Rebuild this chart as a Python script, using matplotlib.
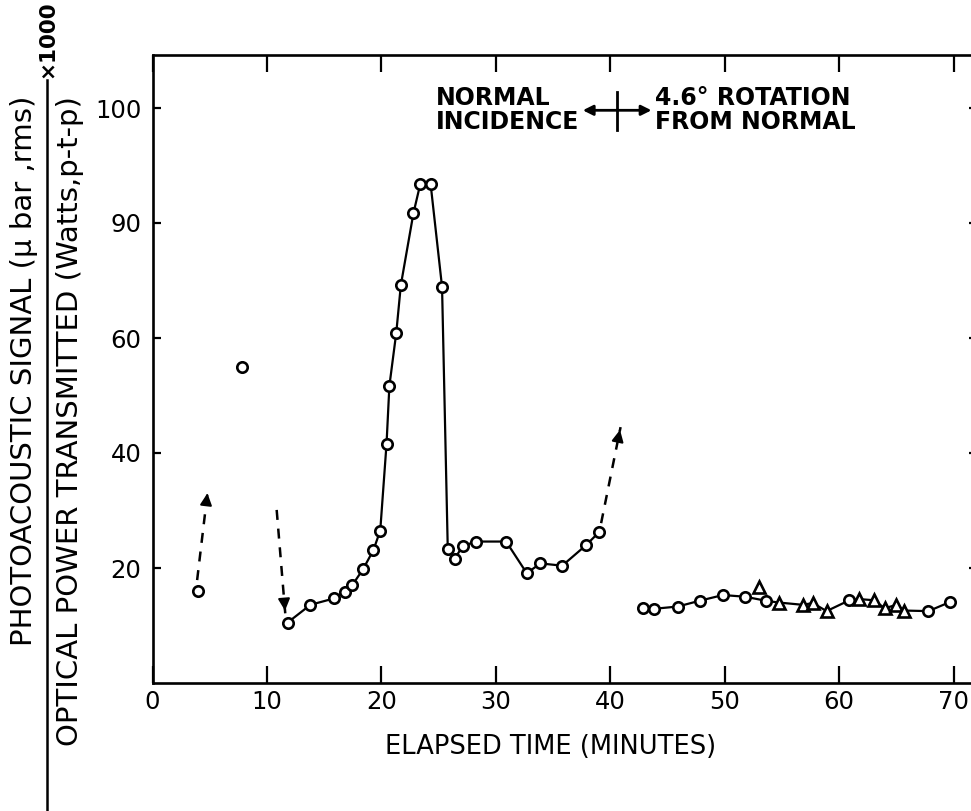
import matplotlib
matplotlib.use('Agg')
import matplotlib.pyplot as plt
from matplotlib.lines import Line2D

plt.rcParams['font.family'] = ['DejaVu Sans']

# ---------------- data ----------------
early_x = [4.0, 7.8]
early_y = [16.0, 55.0]

main_x = [11.8, 13.8, 15.85, 16.8, 17.45, 18.4, 19.3, 19.9, 20.45, 20.7, 21.3,
          21.7, 22.8, 23.4, 24.3, 25.3, 25.8, 26.4, 27.1, 28.25, 30.9, 32.7,
          33.9, 35.8, 37.9, 39.0]
main_y = [10.5, 13.6, 14.7, 15.8, 17.0, 19.8, 23.1, 26.5, 41.6, 51.7, 60.9,
          69.2, 81.7, 86.8, 86.8, 68.9, 23.3, 21.6, 23.8, 24.6, 24.6, 19.1,
          20.8, 20.4, 24.0, 26.2]

late_circ_x = [42.9, 43.8, 45.9, 47.8, 49.85, 51.8, 53.6, 60.9, 67.8, 69.7]
late_circ_y = [13.0, 12.9, 13.3, 14.3, 15.3, 15.0, 14.3, 14.4, 12.5, 14.1]
late_tri_x = [53.0, 54.7, 56.8, 57.7, 58.9, 61.7, 63.0, 64.0, 65.0, 65.7]
late_tri_y = [16.7, 14.0, 13.6, 13.9, 12.5, 14.6, 14.4, 13.0, 13.6, 12.6]
tri_off_line = [53.0]   # triangle sitting above the drawn curve

# dashed arrows: (x0, y0, x1, y1)
dashed_arrows = [(3.9, 17.9, 4.8, 33.0),
                 (10.85, 30.1, 11.6, 12.1),
                 (39.2, 27.8, 40.9, 44.5)]

x_ticks = [0, 10, 20, 30, 40, 50, 60, 70]
x_tick_labels = ['0', '10', '20', '30', '40', '50', '60', '70']
y_ticks = [20, 40, 60, 80, 100]
y_tick_labels = ['20', '40', '60', '90', '100']

# ---------------- figure ----------------
W, H = 971, 811
fig = plt.figure(figsize=(W / 100, H / 100), dpi=100)
left_px, right_px, top_px, bot_px = 152.5, 976.5, 55, 683
ax = fig.add_axes([left_px / W, 1 - bot_px / H,
                   (right_px - left_px) / W, (bot_px - top_px) / H])
ax.set_xlim(0, 72)
ax.set_ylim(0, (bot_px - top_px) / 5.75)

for s in ax.spines.values():
    s.set_linewidth(1.9)

ax.set_xticks(x_ticks)
ax.set_xticklabels(x_tick_labels)
ax.set_yticks(y_ticks)
ax.set_yticklabels(y_tick_labels)
ax.xaxis.set_tick_params(direction='in', top=True, bottom=True, length=12,
                         width=1.6, labelsize=17.5, pad=5)
ax.yaxis.set_tick_params(direction='in', left=True, right=True, length=6,
                         width=1.6, labelsize=17.5, pad=8)

lw = 1.6
ms = 7.5
mew = 1.9

# early isolated points
ax.plot(early_x, early_y, ls='none', marker='o', ms=ms, mfc='white',
        mec='black', mew=mew, zorder=3)

# main curve
ax.plot(main_x, main_y, color='black', lw=lw, marker='o', ms=ms,
        mfc='white', mec='black', mew=mew, zorder=3)

# late curve (circles + triangles joined)
pts = sorted([(x, y) for x, y in zip(late_circ_x, late_circ_y)] +
             [(x, y) for x, y in zip(late_tri_x, late_tri_y)
              if x not in tri_off_line])
ax.plot([p[0] for p in pts], [p[1] for p in pts], color='black', lw=lw,
        zorder=2)
ax.plot(late_circ_x, late_circ_y, ls='none', marker='o', ms=ms, mfc='white',
        mec='black', mew=mew, zorder=3)
ax.plot(late_tri_x, late_tri_y, ls='none', marker='^', ms=ms + 0.5,
        mfc='white', mec='black', mew=mew, zorder=3)

# dashed arrows
for x0, y0, x1, y1 in dashed_arrows:
    ax.plot([x0, x1], [y0, y1], color='black', lw=1.8, ls=(0, (4, 3.5)),
            zorder=2)
    ax.annotate('', xy=(x1, y1), xytext=(x1 - 0.06 * (x1 - x0),
                                         y1 - 0.06 * (y1 - y0)),
                arrowprops=dict(arrowstyle='-|>,head_length=0.7,head_width=0.35',
                                color='black', lw=1.5))

# annotation at top
fs = 17
ax.text(24.8, 99.6, 'NORMAL\nINCIDENCE', ha='left', va='center',
        fontsize=fs, fontweight='bold', linespacing=1.0)
ax.text(43.9, 99.6, '4.6° ROTATION\nFROM NORMAL', ha='left', va='center',
        fontsize=fs, fontweight='bold', linespacing=1.0)
ax.annotate('', xy=(43.6, 99.6), xytext=(37.6, 99.6),
            arrowprops=dict(arrowstyle='<|-|>,head_length=0.6,head_width=0.3',
                            color='black', lw=2.0, shrinkA=0, shrinkB=0))
ax.plot([40.6, 40.6], [96.2, 102.8], color='black', lw=2.0)

# x label
fig.text(551 / W, 1 - 747 / H, 'ELAPSED TIME (MINUTES)', ha='center',
         va='center', fontsize=18.5)

# y label as a fraction
fig.text(24 / W, 1 - 96 / H, 'PHOTOACOUSTIC SIGNAL (μ bar ,rms)',
         rotation=90, rotation_mode='anchor', ha='right', va='center',
         fontsize=21)
fig.text(70 / W, 1 - 96 / H, 'OPTICAL POWER TRANSMITTED (Watts,p-t-p)',
         rotation=90, rotation_mode='anchor', ha='right', va='center',
         fontsize=21)
fig.add_artist(Line2D([47 / W, 47 / W], [0.0, 1 - 80 / H],
                      transform=fig.transFigure, color='black', lw=1.8))
fig.text(47 / W, 1 - 78 / H, '×1000', rotation=90, ha='center', va='bottom',
         fontsize=15.5, fontweight='bold')

fig.savefig('out.png', dpi=100)
